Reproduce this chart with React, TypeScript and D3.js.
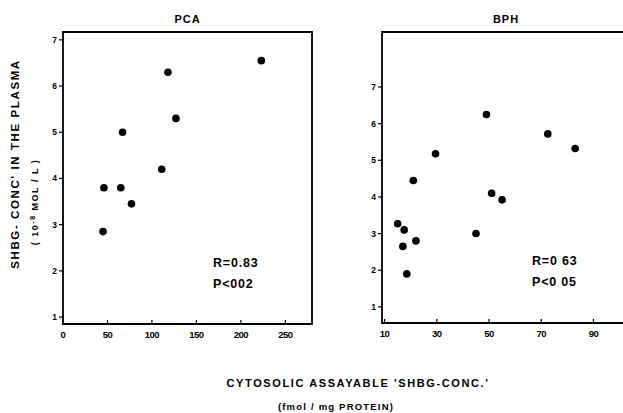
import React from "react"
import * as d3 from "d3"

const W = 623
const H = 413
const font = "'Liberation Sans', Arial, sans-serif"

// PCA panel
const pcaX = [45, 46, 65, 67, 77, 111, 118, 127, 223]
const pcaY = [2.85, 3.8, 3.8, 5.0, 3.45, 4.2, 6.3, 5.3, 6.55]
const pcaXTicks = [0, 50, 100, 150, 200, 250]
const pcaYTicks = [1, 2, 3, 4, 5, 6, 7]

// BPH panel
const bphX = [15, 17.5, 17, 18.5, 22, 21, 29.5, 45, 49, 51, 55, 72.5, 83]
const bphY = [3.27, 3.1, 2.65, 1.9, 2.8, 4.45, 5.18, 3.0, 6.25, 4.1, 3.92, 5.72, 5.32]
const bphXTicks = [10, 30, 50, 70, 90]
const bphYTicks = [1, 2, 3, 4, 5, 6, 7]

type PanelProps = {
  title: string
  xs: number[]
  ys: number[]
  xDomain: [number, number]
  yDomain: [number, number]
  xTicks: number[]
  yTicks: number[]
  left: number
  right: number
  top: number
  bottom: number
  stats: string[]
  statsX: number
  statsY: number
  rightBorder: boolean
}

const Panel = (p: PanelProps) => {
  const x = d3.scaleLinear().domain(p.xDomain).range([p.left, p.right])
  const y = d3.scaleLinear().domain(p.yDomain).range([p.bottom, p.top])
  const frame = p.rightBorder
    ? `M${p.left},${p.top}H${p.right}V${p.bottom}H${p.left}Z`
    : `M${p.right},${p.top}H${p.left}V${p.bottom}H${p.right}`
  return (
    <g>
      <text
        x={(p.left + p.right) / 2}
        y={23}
        textAnchor="middle"
        fontFamily={font}
        fontWeight="bold"
        fontSize={11}
        letterSpacing={1}
      >
        {p.title}
      </text>
      <path d={frame} fill="none" stroke="#000" strokeWidth={1.8} />
      {p.yTicks.map(t => (
        <g key={"y" + t} transform={`translate(${p.left},${y(t)})`}>
          <line x1={-4} x2={0} stroke="#000" strokeWidth={1.2} />
          <text x={-6} dy="0.35em" textAnchor="end" fontFamily={font} fontWeight="bold" fontSize={8.5}>
            {t}
          </text>
        </g>
      ))}
      {p.xTicks.map(t => (
        <g key={"x" + t} transform={`translate(${x(t)},${p.bottom})`}>
          <line y1={0} y2={-4} stroke="#000" strokeWidth={1.2} />
          <text y={14} textAnchor="middle" fontFamily={font} fontWeight="bold" fontSize={9.5} letterSpacing={-0.5}>
            {t}
          </text>
        </g>
      ))}
      {p.xs.map((v, i) => (
        <circle key={i} cx={x(v)} cy={y(p.ys[i])} r={3.8} fill="#000" />
      ))}
      {p.stats.map((s, i) => (
        <text
          key={s}
          x={p.statsX}
          y={p.statsY + i * 21}
          fontFamily={font}
          fontWeight="bold"
          fontSize={12.5}
          letterSpacing={0.8}
        >
          {s}
        </text>
      ))}
    </g>
  )
}

export default function App() {
  return (
    <div style={{ position: "absolute", left: 0, top: 0 }}>
      <svg width={W} height={H} style={{ display: "block", background: "#fff" }}>
        <Panel
          title="PCA"
          xs={pcaX}
          ys={pcaY}
          xDomain={[0, 280]}
          yDomain={[0.85, 7.17]}
          xTicks={pcaXTicks}
          yTicks={pcaYTicks}
          left={63}
          right={312}
          top={32}
          bottom={324}
          stats={["R=0.83", "P<002"]}
          statsX={213}
          statsY={267}
          rightBorder={true}
        />
        <Panel
          title="BPH"
          xs={bphX}
          ys={bphY}
          xDomain={[9, 104]}
          yDomain={[0.56, 8.5]}
          xTicks={bphXTicks}
          yTicks={bphYTicks}
          left={382}
          right={630}
          top={32}
          bottom={323}
          stats={["R=0 63", "P<0 05"]}
          statsX={532}
          statsY={265}
          rightBorder={false}
        />
        <text
          transform="translate(19,164) rotate(-90)"
          textAnchor="middle"
          fontFamily={font}
          fontWeight="bold"
          fontSize={11.5}
          letterSpacing={1.6}
        >
          SHBG- CONC' IN THE PLASMA
        </text>
        <text
          transform="translate(38,202) rotate(-90)"
          textAnchor="middle"
          fontFamily={font}
          fontWeight="bold"
          fontSize={9}
          letterSpacing={1.5}
        >
          ( 10<tspan dy={-3} fontSize={7}>-8</tspan>
          <tspan dy={3}> MOL / L )</tspan>
        </text>
        <text
          x={358}
          y={387}
          textAnchor="middle"
          fontFamily={font}
          fontWeight="bold"
          fontSize={11}
          letterSpacing={1.6}
        >
          CYTOSOLIC ASSAYABLE 'SHBG-CONC.'
        </text>
        <text
          x={336}
          y={410}
          textAnchor="middle"
          fontFamily={font}
          fontWeight="bold"
          fontSize={9.5}
          letterSpacing={1.2}
        >
          (fmol / mg PROTEIN)
        </text>
      </svg>
    </div>
  )
}
